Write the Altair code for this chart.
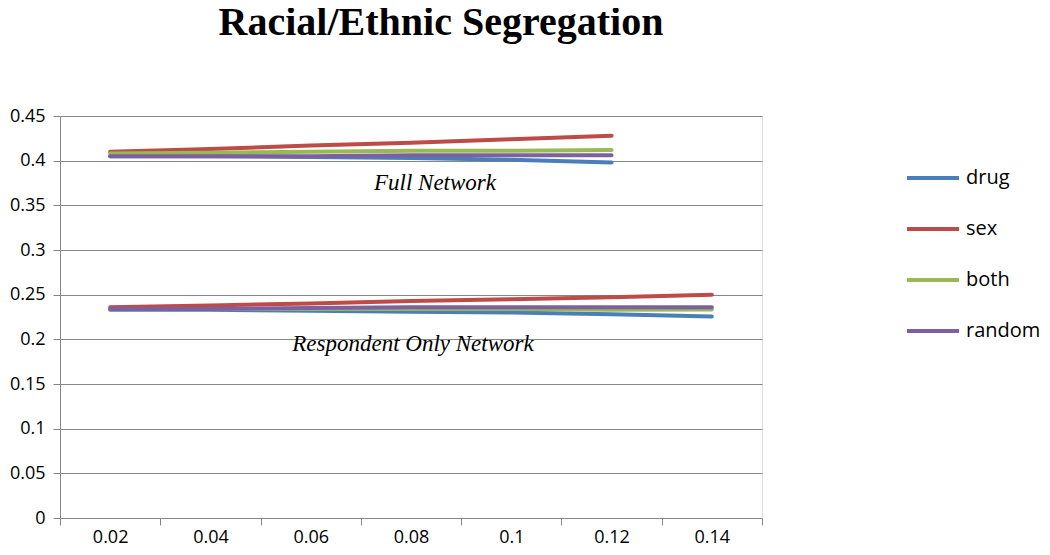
import altair as alt
import pandas as pd

x_labels = ["0.02", "0.04", "0.06", "0.08", "0.1", "0.12", "0.14"]
series = ["drug", "sex", "both", "random"]
colors = ["#4A7EBB", "#BE4B48", "#98B954", "#7D60A0"]

full_x = ["0.02", "0.04", "0.06", "0.08", "0.1", "0.12"]
full_drug = [0.405, 0.405, 0.404, 0.403, 0.401, 0.398]
full_sex = [0.410, 0.413, 0.417, 0.420, 0.424, 0.428]
full_both = [0.408, 0.409, 0.410, 0.411, 0.411, 0.412]
full_random = [0.405, 0.405, 0.405, 0.406, 0.406, 0.406]

resp_x = ["0.02", "0.04", "0.06", "0.08", "0.1", "0.12", "0.14"]
resp_drug = [0.233, 0.233, 0.232, 0.231, 0.230, 0.228, 0.2255]
resp_sex = [0.236, 0.238, 0.240, 0.243, 0.245, 0.247, 0.250]
resp_both = [0.234, 0.234, 0.234, 0.234, 0.234, 0.233, 0.2335]
resp_random = [0.234, 0.234, 0.235, 0.236, 0.236, 0.236, 0.236]

notes = ["Full Network", "Respondent Only Network"]
note_x = ["0.08", "0.08"]
note_y = [0.375, 0.195]
note_dx = [24, 2]

rows = []
for name, vals in zip(series, [full_drug, full_sex, full_both, full_random]):
    for x, v in zip(full_x, vals):
        rows.append({"x": x, "value": v, "series": name, "network": "full", "order": series.index(name)})
for name, vals in zip(series, [resp_drug, resp_sex, resp_both, resp_random]):
    for x, v in zip(resp_x, vals):
        rows.append({"x": x, "value": v, "series": name, "network": "resp", "order": series.index(name)})
df = pd.DataFrame(rows)

notes_df = pd.DataFrame({"label": notes, "x": note_x, "y": note_y, "dx": note_dx})

xscale = alt.Scale(domain=x_labels, paddingInner=0, paddingOuter=0)
yscale = alt.Scale(domain=[0, 0.45], nice=False)

lines = alt.Chart(df).mark_line(strokeWidth=4, strokeCap="round").encode(
    x=alt.X("x:N", scale=xscale, sort=x_labels,
            axis=alt.Axis(title=None, labelAngle=0, tickBand="extent", tickSize=7,
                          labelPadding=3, labelFontSize=18, labelFont="Open Sans",
                          labelColor="#000000", domainColor="#868686", tickColor="#868686",
                          grid=False)),
    y=alt.Y("value:Q", scale=yscale,
            axis=alt.Axis(title=None, values=[0, 0.05, 0.1, 0.15, 0.2, 0.25, 0.3, 0.35, 0.4, 0.45],
                          format="~g", tickSize=7, labelPadding=8, labelFontSize=18,
                          labelFont="Open Sans", labelColor="#000000", domainColor="#868686",
                          tickColor="#868686", gridColor="#868686", grid=True)),
    color=alt.Color("series:N", scale=alt.Scale(domain=series, range=colors), sort=series,
                    legend=alt.Legend(title=None, orient="none", legendX=845, legendY=34,
                                      symbolType="stroke", symbolSize=2704, symbolStrokeWidth=4,
                                      labelFontSize=20, labelFont="Open Sans", labelColor="#000000",
                                      rowPadding=13, labelOffset=5, padding=0, labelLimit=300)),
    detail="network:N",
    order=alt.Order("order:Q"),
)

text_layers = []
for i in range(len(notes)):
    sub = notes_df.iloc[[i]]
    text_layers.append(
        alt.Chart(sub).mark_text(font="Liberation Serif", fontStyle="italic", fontSize=23,
                                 baseline="middle", align="center", color="#000000",
                                 dx=int(note_dx[i])).encode(
            x=alt.X("x:N", scale=xscale, sort=x_labels),
            y=alt.Y("y:Q", scale=yscale),
            text="label:N",
        )
    )

chart = alt.layer(lines, *text_layers).properties(
    width=702, height=402,
    autosize=alt.AutoSizeParams(type="none"),
    padding={"left": 52, "top": 108, "right": 280, "bottom": 29},
    title=alt.TitleParams("Racial/Ethnic Segregation", font="Liberation Serif", fontSize=40,
                          fontWeight="bold", color="#000000", anchor="middle", frame="group",
                          dx=30, offset=64),
).configure_view(stroke=None).configure(background="white")

chart.save("out.html", embed_options={"renderer": "svg", "actions": False})
